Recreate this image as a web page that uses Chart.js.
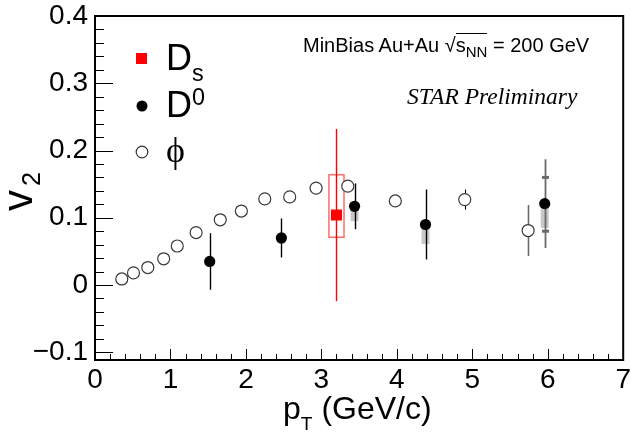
<!DOCTYPE html>
<html><head><meta charset="utf-8">
<script src="https://cdn.jsdelivr.net/npm/chart.js@4"></script>
<style>
html,body{margin:0;padding:0;background:#fff;}
#wrap{position:relative;width:631px;height:439px;overflow:hidden;background:#fff;}
canvas{position:absolute;left:0;top:0;}
.t{position:absolute;white-space:nowrap;color:#000;font-family:"Liberation Sans",Arial,sans-serif;line-height:1;}
.t sub{font-size:70%;vertical-align:-0.35em;line-height:0;}
.t sup{font-size:70%;vertical-align:0.55em;line-height:0;}
</style></head><body>
<div id="wrap">
<canvas id="c" width="631" height="439"></canvas>
<div class="t" style="left:-12px;top:160px;width:60px;height:42px;font-size:42px;transform:rotate(-90deg);transform-origin:center center;text-align:left;"><span style="letter-spacing:4px;">v</span><sub style="font-size:60%;vertical-align:-0.3em;">2</sub></div>
<div class="t" style="left:283px;top:392px;font-size:32px;">p<sub style="font-size:60%;vertical-align:-0.55em;">T</sub> (GeV/c)</div>
<div class="t" style="left:303px;top:35px;font-size:20px;">MinBias Au+Au <span>&#8730;</span><span style="border-top:1px solid #000;">s<sub style="font-size:75%;vertical-align:-0.3em">NN</sub></span> = 200 GeV</div>
<div class="t" style="left:407px;top:85px;font-size:23.5px;font-family:'Liberation Serif','Times New Roman',serif;font-style:italic;">STAR Preliminary</div>
<div class="t" style="left:166px;top:40px;font-size:36px;">D<sub style="font-size:65%;vertical-align:-0.45em;">s</sub></div>
<div class="t" style="left:166px;top:87px;font-size:36px;">D<sup style="font-size:65%;vertical-align:0.5em;">0</sup></div>
<div class="t" style="left:166px;top:132px;font-size:36px;font-family:'Liberation Serif','DejaVu Serif',serif;">&#981;</div>
</div>
<script>
// ---- data ----
const phiX   = [0.355, 0.51, 0.70, 0.91, 1.09, 1.34, 1.66, 1.94, 2.25, 2.58, 2.93, 3.35, 3.98, 4.90, 5.74];
const phiV   = [0.009, 0.018, 0.026, 0.039, 0.058, 0.078, 0.097, 0.110, 0.128, 0.131, 0.144, 0.147, 0.125, 0.127, 0.081];
const phiErr = [0.002, 0.002, 0.002, 0.003, 0.003, 0.003, 0.004, 0.004, 0.005, 0.005, 0.006, 0.007, 0.008, 0.015, 0.038];

const d0X     = [1.52, 2.47, 3.44, 4.38, 5.96];
const d0V     = [0.035, 0.070, 0.117, 0.090, 0.121];
const d0Err   = [0.042, 0.029, 0.034, 0.052, 0.066];
const d0SysLo = [0.035, 0.062, 0.095, 0.061, 0.085];
const d0SysHi = [0.035, 0.077, 0.117, 0.090, 0.121];
const d0CapHi = [null, null, null, null, 0.160];
const d0CapLo = [null, null, null, null, 0.080];

const dsX      = [3.20];
const dsV      = [0.104];
const dsErr    = [0.128];
const dsSysLo  = [0.071];
const dsSysHi  = [0.164];
const dsXWidth = [0.10];

const xTicks = [0, 1, 2, 3, 4, 5, 6, 7];
const yTicks = [-0.1, 0, 0.1, 0.2, 0.3, 0.4];

// ---- drawing helpers ----
const errPlugin = {
  id: 'errbars',
  beforeDatasetsDraw(chart) {
    const {ctx, scales: {x, y}} = chart;
    ctx.save();
    // D0 systematic boxes
    ctx.fillStyle = '#c8c8c8';
    d0X.forEach((xv, i) => {
      const px = x.getPixelForValue(xv);
      const y1 = y.getPixelForValue(d0SysHi[i]), y2 = y.getPixelForValue(d0SysLo[i]);
      if (y2 - y1 > 0.5) ctx.fillRect(px - 4, y1, 8, y2 - y1);
    });
    // phi error bars
    phiX.forEach((xv, i) => {
      const px = Math.round(x.getPixelForValue(xv)) + 0.5;
      ctx.strokeStyle = i === phiX.length - 1 ? '#6a6a6a' : '#000';
      ctx.lineWidth = i === phiX.length - 1 ? 1.6 : 1.1;
      ctx.beginPath();
      ctx.moveTo(px, y.getPixelForValue(phiV[i] + phiErr[i]));
      ctx.lineTo(px, y.getPixelForValue(phiV[i] - phiErr[i]));
      ctx.stroke();
    });
    // D0 error bars
    d0X.forEach((xv, i) => {
      const px = Math.round(x.getPixelForValue(xv)) + 0.5;
      const last = i === d0X.length - 1;
      ctx.strokeStyle = last ? '#6a6a6a' : '#000';
      ctx.lineWidth = last ? 1.8 : 1.4;
      ctx.beginPath();
      ctx.moveTo(px, y.getPixelForValue(d0V[i] + d0Err[i]));
      ctx.lineTo(px, y.getPixelForValue(d0V[i] - d0Err[i]));
      ctx.stroke();
      [d0CapHi[i], d0CapLo[i]].forEach(c => {
        if (c === null) return;
        const py = y.getPixelForValue(c);
        ctx.fillStyle = '#6a6a6a';
        ctx.fillRect(px - 3.5, py - 1.5, 7, 3);
      });
    });
    // Ds error bar and systematic box
    dsX.forEach((xv, i) => {
      const px = x.getPixelForValue(xv);
      ctx.strokeStyle = 'rgba(255,60,60,0.75)';
      ctx.lineWidth = 1.5;
      const bx1 = x.getPixelForValue(xv - dsXWidth[i]), bx2 = x.getPixelForValue(xv + dsXWidth[i]);
      const by1 = y.getPixelForValue(dsSysHi[i]), by2 = y.getPixelForValue(dsSysLo[i]);
      ctx.strokeRect(bx1, by1, bx2 - bx1, by2 - by1);
      ctx.strokeStyle = '#ff0000';
      ctx.lineWidth = 1.4;
      ctx.beginPath();
      ctx.moveTo(Math.round(px) + 0.5, y.getPixelForValue(dsV[i] + dsErr[i]));
      ctx.lineTo(Math.round(px) + 0.5, y.getPixelForValue(dsV[i] - dsErr[i]));
      ctx.stroke();
    });
    ctx.restore();
  },
  afterDraw(chart) {
    const {ctx, chartArea: a, scales: {x, y}} = chart;
    ctx.save();
    ctx.strokeStyle = '#000';
    ctx.lineWidth = 1;
    // y ticks (inside)
    for (let k = -5; k <= 20; k++) {
      const v = k * 0.02;
      const py = Math.round(y.getPixelForValue(v)) + 0.5;
      const len = (k % 5 === 0) ? 18 : 9;
      ctx.beginPath(); ctx.moveTo(a.left, py); ctx.lineTo(a.left + len, py); ctx.stroke();
    }
    // x ticks (inside)
    for (let k = 0; k <= 35; k++) {
      const v = k * 0.2;
      const px = Math.round(x.getPixelForValue(v)) + 0.5;
      const len = (k % 5 === 0) ? 11 : 6;
      ctx.beginPath(); ctx.moveTo(px, a.bottom); ctx.lineTo(px, a.bottom - len); ctx.stroke();
    }
    // frame
    ctx.lineWidth = 2;
    ctx.strokeRect(a.left, a.top, a.right - a.left, a.bottom - a.top);
    // legend markers
    ctx.fillStyle = '#ff0000';
    ctx.fillRect(136, 53, 11, 11);
    ctx.fillStyle = '#000';
    ctx.beginPath(); ctx.arc(142, 106, 5.5, 0, Math.PI * 2); ctx.fill();
    ctx.strokeStyle = '#333'; ctx.lineWidth = 1.2; ctx.fillStyle = '#fff';
    ctx.beginPath(); ctx.arc(142, 152, 5.8, 0, Math.PI * 2); ctx.fill(); ctx.stroke();
    ctx.restore();
  }
};

const fmt = v => {
  const r = Math.round(v * 10) / 10;
  if (r === 0) return '0';
  return (r < 0 ? '\u2212' : '') + Math.abs(r).toFixed(1);
};

new Chart(document.getElementById('c'), {
  type: 'scatter',
  data: {
    datasets: [
      { label: 'phi', data: phiX.map((v, i) => ({x: v, y: phiV[i]})),
        pointStyle: 'circle', pointRadius: 6, backgroundColor: '#fff', borderColor: '#3a3a3a', borderWidth: 1.2, order: 3 },
      { label: 'D0', data: d0X.map((v, i) => ({x: v, y: d0V[i]})),
        pointStyle: 'circle', pointRadius: 5.6, backgroundColor: '#000', borderColor: '#000', borderWidth: 0, order: 2 },
      { label: 'Ds', data: dsX.map((v, i) => ({x: v, y: dsV[i]})),
        pointStyle: 'rect', pointRadius: 7.8, backgroundColor: '#ff0000', borderColor: '#ff0000', borderWidth: 0, order: 1 }
    ]
  },
  options: {
    responsive: false,
    animation: false,
    events: [],
    layout: { padding: { top: 16, right: 5, left: 0, bottom: 0 } },
    plugins: { legend: { display: false }, tooltip: { enabled: false } },
    scales: {
      x: {
        type: 'linear', min: 0, max: 7,
        grid: { display: false, drawTicks: false }, border: { display: false },
        afterBuildTicks: s => { s.ticks = xTicks.map(v => ({value: v})); },
        afterFit: s => { s.height = 79; s.paddingLeft = 0; s.paddingRight = 0; },
        ticks: { padding: 3, color: '#000', font: { family: 'Liberation Sans', size: 28 }, callback: v => String(v), maxRotation: 0 }
      },
      y: {
        type: 'linear', min: -0.1115, max: 0.4,
        grid: { display: false, drawTicks: false }, border: { display: false },
        afterBuildTicks: s => { s.ticks = yTicks.map(v => ({value: v})); },
        afterFit: s => { s.width = 95; s.paddingTop = 0; s.paddingBottom = 0; },
        ticks: { padding: 7, color: '#000', font: { family: 'Liberation Sans', size: 28 }, callback: v => fmt(v) }
      }
    }
  },
  plugins: [errPlugin]
});
</script>
</body></html>
